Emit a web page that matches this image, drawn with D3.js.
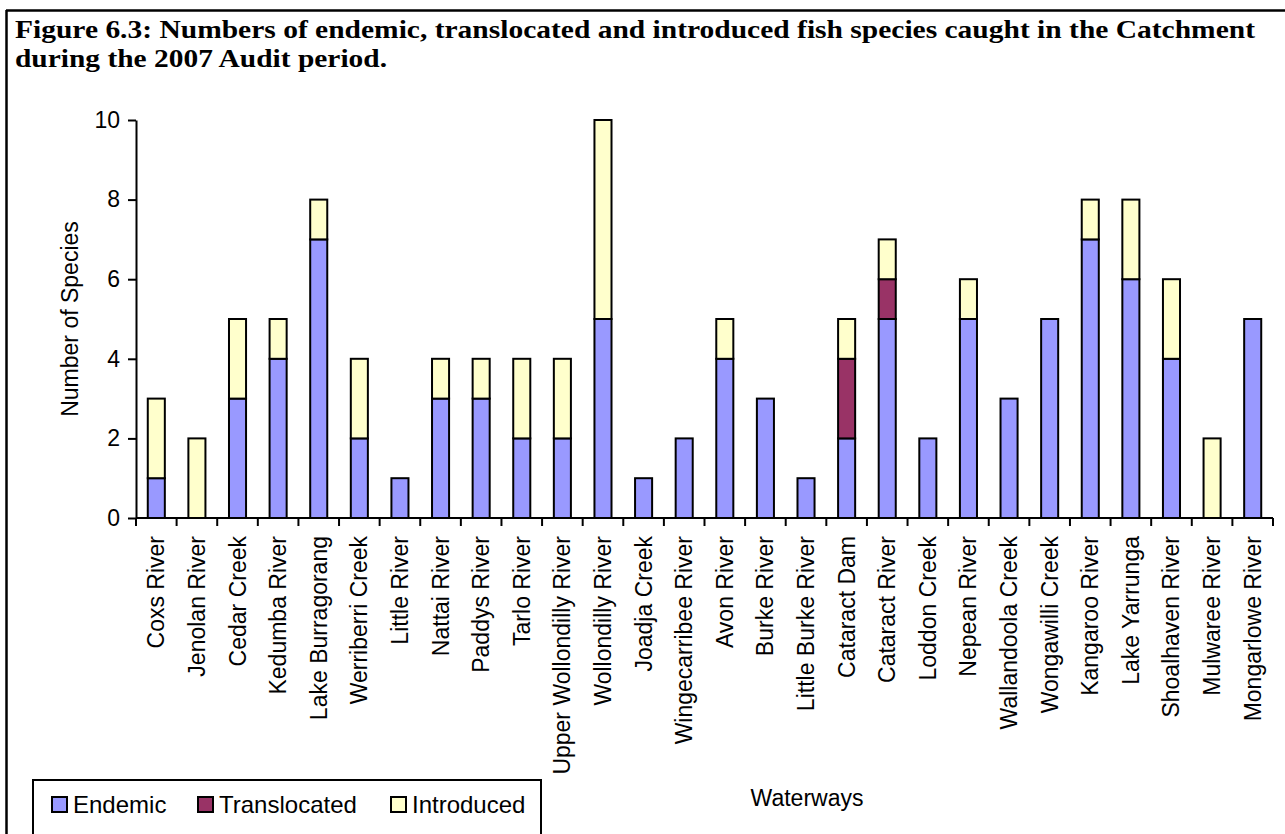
<!DOCTYPE html>
<html>
<head>
<meta charset="utf-8">
<script src="https://cdn.jsdelivr.net/npm/d3@7"></script>
<style>
  html, body { margin: 0; padding: 0; background: #fff; }
  svg { display: block; }
</style>
</head>
<body>
<svg id="chart" width="1285" height="834"></svg>
<script>
// Waterways sampled during the audit period
const waterways = [
  "Coxs River", "Jenolan River", "Cedar Creek", "Kedumba River", "Lake Burragorang",
  "Werriberri Creek", "Little River", "Nattai River", "Paddys River", "Tarlo River",
  "Upper Wollondilly River", "Wollondilly River", "Joadja Creek", "Wingecarribee River",
  "Avon River", "Burke River", "Little Burke River", "Cataract Dam", "Cataract River",
  "Loddon Creek", "Nepean River", "Wallandoola Creek", "Wongawilli Creek", "Kangaroo River",
  "Lake Yarrunga", "Shoalhaven River", "Mulwaree River", "Mongarlowe River"
];

// Species counts per waterway
const endemic      = [1, 0, 3, 4, 7, 2, 1, 3, 3, 2, 2, 5, 1, 2, 4, 3, 1, 2, 5, 2, 5, 3, 5, 7, 6, 4, 0, 5];
const translocated = [0, 0, 0, 0, 0, 0, 0, 0, 0, 0, 0, 0, 0, 0, 0, 0, 0, 2, 1, 0, 0, 0, 0, 0, 0, 0, 0, 0];
const introduced   = [2, 2, 2, 1, 1, 2, 0, 1, 1, 2, 2, 5, 0, 0, 1, 0, 0, 1, 1, 0, 1, 0, 0, 1, 2, 2, 2, 0];

const seriesNames = ["Endemic", "Translocated", "Introduced"];
const seriesColors = ["#9999FF", "#993366", "#FFFFCC"];
const yTicks = [0, 2, 4, 6, 8, 10];

const rows = waterways.map((name, i) => ({
  name,
  Endemic: endemic[i],
  Translocated: translocated[i],
  Introduced: introduced[i]
}));

const svg = d3.select("#chart");
const FONT = "Liberation Sans, Arial, sans-serif";

// Outer figure frame (top and left edges)
svg.append("line").attr("x1", 6.5).attr("x2", 6.5).attr("y1", 10).attr("y2", 834)
  .attr("stroke", "#000").attr("stroke-width", 2.5);
svg.append("line").attr("x1", 6).attr("x2", 1285).attr("y1", 10.5).attr("y2", 10.5)
  .attr("stroke", "#000").attr("stroke-width", 2.5);

// Caption, set justified across the frame width
const title = svg.append("text")
  .attr("font-family", "Liberation Serif, 'Times New Roman', serif")
  .attr("font-weight", "bold")
  .attr("font-size", 25)
  .attr("fill", "#000");
title.append("tspan").attr("x", 15).attr("y", 38)
  .attr("textLength", 1240).attr("lengthAdjust", "spacingAndGlyphs")
  .text("Figure 6.3: Numbers of endemic, translocated and introduced fish species caught in the Catchment");
title.append("tspan").attr("x", 15).attr("y", 67)
  .attr("textLength", 372).attr("lengthAdjust", "spacingAndGlyphs")
  .text("during the 2007 Audit period.");

// Plot area
const plot = { left: 136, right: 1273, top: 120, bottom: 518 };

const x = d3.scaleBand()
  .domain(waterways)
  .range([plot.left, plot.right])
  .paddingInner(0.58)
  .paddingOuter(0.29);

const y = d3.scaleLinear()
  .domain([0, 10])
  .range([plot.bottom, plot.top]);

const stacked = d3.stack().keys(seriesNames)(rows);

const g = svg.append("g");
stacked.forEach((layer, li) => {
  g.selectAll(null)
    .data(layer.filter(d => d[1] - d[0] > 0))
    .join("rect")
    .attr("x", d => x(d.data.name))
    .attr("width", x.bandwidth())
    .attr("y", d => y(d[1]))
    .attr("height", d => y(d[0]) - y(d[1]))
    .attr("fill", seriesColors[li])
    .attr("stroke", "#000")
    .attr("stroke-width", 2);
});

// Y axis
const yAxis = d3.axisLeft(y).tickValues(yTicks).tickSize(8).tickPadding(8).tickSizeOuter(0);
const yg = svg.append("g").attr("transform", `translate(${plot.left},0)`).call(yAxis);
yg.select(".domain").attr("stroke-width", 2);
yg.selectAll(".tick line").attr("stroke-width", 2);
yg.selectAll(".tick text").attr("font-family", FONT).attr("font-size", 23).attr("fill", "#000");

// X axis: ticks sit on the category boundaries
const step = x.step();
const boundaries = d3.range(waterways.length + 1).map(i => plot.left + i * step);
svg.append("line")
  .attr("x1", plot.left).attr("x2", plot.right)
  .attr("y1", plot.bottom).attr("y2", plot.bottom)
  .attr("stroke", "#000").attr("stroke-width", 2);
svg.selectAll(null).data(boundaries).join("line")
  .attr("x1", d => d).attr("x2", d => d)
  .attr("y1", plot.bottom).attr("y2", plot.bottom + 8)
  .attr("stroke", "#000").attr("stroke-width", 2);

svg.selectAll(null).data(waterways).join("text")
  .attr("transform", d => `translate(${x(d) + x.bandwidth() / 2 + 8},${plot.bottom + 18}) rotate(-90)`)
  .attr("text-anchor", "end")
  .attr("font-family", FONT)
  .attr("font-size", 23)
  .attr("fill", "#000")
  .text(d => d);

// Axis titles
svg.append("text")
  .attr("transform", `translate(78,${(plot.top + plot.bottom) / 2}) rotate(-90)`)
  .attr("text-anchor", "middle")
  .attr("font-family", FONT).attr("font-size", 23).attr("fill", "#000")
  .text("Number of Species");

svg.append("text")
  .attr("x", 807).attr("y", 806)
  .attr("text-anchor", "middle")
  .attr("font-family", FONT).attr("font-size", 23).attr("fill", "#000")
  .text("Waterways");

// Legend
const legend = svg.append("g");
legend.append("rect")
  .attr("x", 33).attr("y", 780).attr("width", 508).attr("height", 80)
  .attr("fill", "#fff").attr("stroke", "#000").attr("stroke-width", 2);
const legendX = [52, 198, 391];
seriesNames.forEach((name, i) => {
  legend.append("rect")
    .attr("x", legendX[i]).attr("y", 797).attr("width", 15).attr("height", 15)
    .attr("fill", seriesColors[i]).attr("stroke", "#000").attr("stroke-width", 2);
  legend.append("text")
    .attr("x", legendX[i] + 21).attr("y", 813)
    .attr("font-family", FONT).attr("font-size", 24).attr("fill", "#000")
    .text(name);
});
</script>
</body>
</html>
